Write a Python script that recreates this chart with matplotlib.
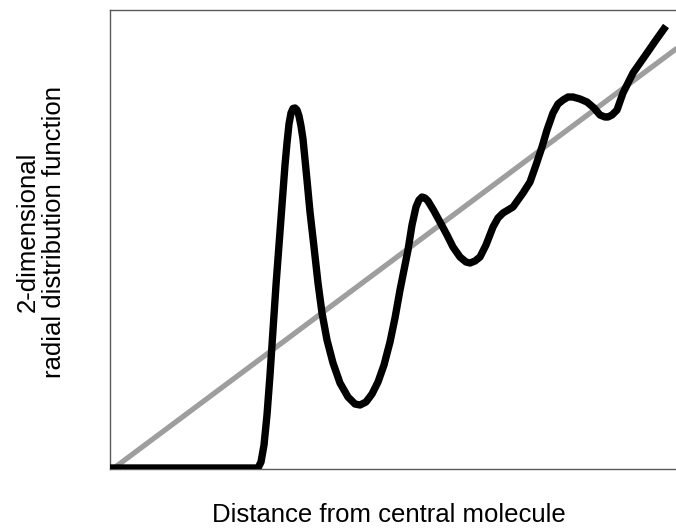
import matplotlib
matplotlib.use("Agg")
import matplotlib.pyplot as plt

# curve, in pixel-like units (x: distance, y: g(r))
dist = [-2, 148, 151, 154, 157, 160, 163, 166, 169, 172, 175, 177, 179, 181,
        183, 185, 187, 189, 191, 193, 197, 200, 204, 208, 212, 217, 223, 230,
        238, 245, 250, 256, 262, 268, 274, 280, 285, 290, 294, 298, 302, 306,
        309, 312, 315, 318, 324, 330, 337, 343, 350, 356, 360, 365, 370, 376,
        383, 388, 393, 398, 403, 408, 413, 420, 426, 432, 437, 443, 448, 453,
        458, 463, 470, 477, 484, 490, 495, 498, 502, 507, 513, 518, 523, 530,
        537, 546, 556]
rdf = [1, 1, 7, 24, 54, 94, 139, 184, 224, 264, 304, 326, 345, 356,
       360.5, 361, 359, 353, 343, 330, 289, 257, 222, 186, 156, 129, 106, 86,
       72, 65, 64, 67, 75, 87, 104, 127, 151, 179, 199, 219, 244, 262,
       269, 272, 271, 268, 258, 247, 234, 222, 212, 207, 206, 208, 212, 224,
       242, 251, 256, 259, 262, 269, 276, 287, 304, 322, 339, 356, 365, 369,
       372, 372, 370, 367, 361, 354, 352, 352, 354, 359, 376, 386, 396, 406,
       416, 429, 443]

# straight reference line
ref_x = [0, 570]
ref_y = [-2, 423]

fig = plt.figure(figsize=(6.76, 5.31), dpi=100)
ax = fig.add_axes([110/676, 62/531, 570/676, 459/531])

ax.plot(ref_x, ref_y, color="#9e9e9e", lw=3.8, solid_capstyle="butt", zorder=2)
ax.plot(dist, rdf, color="black", lw=5.3, solid_joinstyle="round",
        solid_capstyle="butt", zorder=3)

ax.set_xlim(0, 570)
ax.set_ylim(0, 459)
ax.set_xticks([])
ax.set_yticks([])
for s in ax.spines.values():
    s.set_color("#5a5a5a")
    s.set_linewidth(1.0)

fnt = dict(family="Liberation Sans", size=18.5)
fig.text(389/676, 1 - 515/531, "Distance from central molecule",
         ha="center", va="center", **fnt)
fig.text(41/676, 1 - 232/531, "2-dimensional\nradial distribution function",
         ha="center", va="center", rotation=90, linespacing=1.15,
         multialignment="center", **fnt)

fig.savefig("out.png", dpi=100)
